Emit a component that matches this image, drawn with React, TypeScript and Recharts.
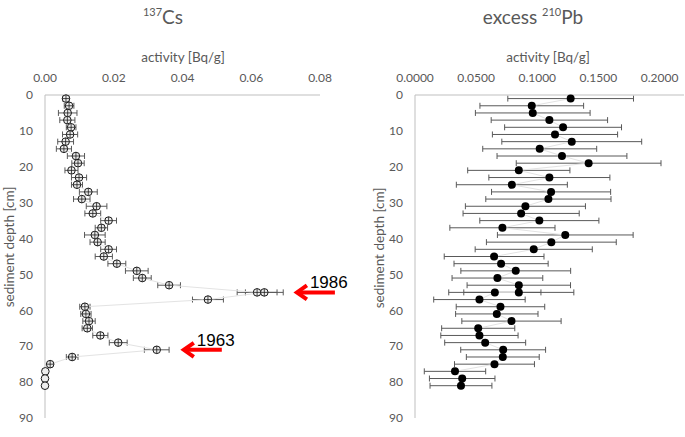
import React from "react";
import { ScatterChart, Scatter, XAxis, YAxis, ErrorBar, ReferenceDot } from "recharts";

// 137Cs profile (depth in cm, activity in Bq/g)
const csDepth = [
  1, 3, 5, 7, 9, 11, 13, 15, 17, 19, 21, 23, 25, 27, 29, 31, 33, 35, 37, 39, 41,
  43, 45, 47, 49, 51, 53, 55, 55, 57, 59, 61, 63, 65, 67, 69, 71, 73, 75, 77, 79, 81,
];
const csActivity = [
  0.0061, 0.007, 0.0066, 0.0065, 0.0076, 0.0073, 0.006, 0.0055, 0.009, 0.0096, 0.0077,
  0.0099, 0.0093, 0.0126, 0.0107, 0.015, 0.0139, 0.0185, 0.0164, 0.0145, 0.0153, 0.0185,
  0.0171, 0.0209, 0.0267, 0.0283, 0.0361, 0.0617, 0.0638, 0.0474, 0.0116, 0.0119, 0.0128,
  0.0123, 0.0161, 0.0213, 0.0325, 0.0079, 0.0015, 0.0001, 0, 0,
];
const csError = [
  0.0009, 0.0014, 0.0027, 0.0022, 0.0014, 0.0022, 0.0023, 0.0022, 0.0025, 0.0018, 0.0019,
  0.0022, 0.0016, 0.0026, 0.0024, 0.003, 0.0023, 0.0023, 0.0018, 0.003, 0.0022, 0.0023,
  0.0025, 0.0026, 0.0033, 0.0026, 0.0033, 0.0058, 0.0055, 0.0045, 0.0015, 0.0015, 0.0018,
  0.0015, 0.0022, 0.0026, 0.0036, 0.0017, 0.0005, 0, 0, 0,
];

// excess 210Pb profile
const pbDepth = csDepth;
const pbActivity = [
  0.1273, 0.0955, 0.0963, 0.1099, 0.1211, 0.1145, 0.1282, 0.102, 0.1202, 0.142, 0.0849,
  0.1099, 0.0792, 0.1113, 0.1091, 0.0903, 0.0868, 0.1017, 0.0715, 0.1229, 0.1115, 0.0971,
  0.0647, 0.0704, 0.0824, 0.0674, 0.0849, 0.0849, 0.0653, 0.0527, 0.0699, 0.0669, 0.0789,
  0.0517, 0.0527, 0.0574, 0.0721, 0.0718, 0.065, 0.0327, 0.0386, 0.0376,
];
const pbError = [
  0.0514, 0.0424, 0.0469, 0.0476, 0.0478, 0.0512, 0.0572, 0.0466, 0.0531, 0.0592, 0.0418,
  0.0495, 0.0454, 0.0487, 0.0512, 0.0491, 0.0475, 0.0487, 0.043, 0.0555, 0.0531, 0.0479,
  0.0408, 0.0385, 0.0449, 0.0371, 0.0423, 0.045, 0.0377, 0.0374, 0.0362, 0.0337, 0.0406,
  0.0299, 0.0316, 0.0331, 0.0347, 0.0298, 0.0327, 0.0251, 0.0268, 0.0253,
];

const csTicks = [0, 0.02, 0.04, 0.06, 0.08];
const pbTicks = [0, 0.05, 0.1, 0.15, 0.2];
const depthTicks = [0, 10, 20, 30, 40, 50, 60, 70, 80, 90];

const markerYears = ["1986", "1963"];
const markerActivity = [0.0727, 0.0398];
const markerDepth = [55, 71];

const csData = csDepth.map((d, i) => ({ depth: d, activity: csActivity[i], err: csError[i] }));
const pbData = pbDepth.map((d, i) => ({ depth: d, activity: pbActivity[i], err: pbError[i] }));

const FONT = "Lato, 'Open Sans', sans-serif";
const GRAY = "#595959";
const AXIS = "#bfbfbf";

function CsMarker(props: any) {
  const { cx, cy, payload } = props;
  const r = 3.8;
  return (
    <g>
      <circle cx={cx} cy={cy} r={r} fill="#ededed" stroke="#1a1a1a" strokeWidth={1} />
      {payload.err > 0 && (
        <path
          d={`M${cx - r} ${cy}H${cx + r}M${cx} ${cy - r}V${cy + r}`}
          stroke="#1a1a1a"
          strokeWidth={0.8}
        />
      )}
    </g>
  );
}

function PbMarker(props: any) {
  const { cx, cy } = props;
  return <circle cx={cx} cy={cy} r={4} fill="#000" />;
}

function YearArrow(props: any, year: string) {
  const { cx, cy } = props;
  return (
    <g>
      <path d={`M${cx + 3} ${cy}H${cx + 40}`} stroke="#ff0000" strokeWidth={4} />
      <path
        d={`M${cx + 12} ${cy - 7}L${cx + 2} ${cy}L${cx + 12} ${cy + 7}`}
        stroke="#ff0000"
        strokeWidth={4}
        fill="none"
        strokeLinejoin="miter"
      />
      <text
        x={cx + 15}
        y={cy - 4}
        fontSize={17}
        fontFamily="'Liberation Sans', Arial, sans-serif"
        fill="#000"
      >
        {year}
      </text>
    </g>
  );
}

const tickStyle = { fill: GRAY, fontSize: 12, fontFamily: FONT };

function Panel({
  data,
  domain,
  ticks,
  digits,
  marker,
  width,
  marginLeft,
  marginRight,
  children,
}: any) {
  return (
    <ScatterChart
      width={width}
      height={437}
      margin={{ top: 75, right: marginRight, bottom: 19, left: marginLeft }}
    >
      <XAxis
        type="number"
        dataKey="activity"
        orientation="top"
        domain={domain}
        ticks={ticks}
        tickFormatter={(v: number) => v.toFixed(digits)}
        axisLine={{ stroke: AXIS }}
        tickLine={false}
        tickSize={0}
        tickMargin={13}
        tick={tickStyle}
        height={20}
        interval={0}
      />
      <YAxis
        type="number"
        dataKey="depth"
        domain={[0, 90]}
        ticks={depthTicks}
        reversed
        axisLine={{ stroke: AXIS }}
        tickLine={false}
        tickSize={0}
        tickMargin={12}
        tick={tickStyle}
        width={30}
        interval={0}
      />
      <Scatter
        data={data}
        isAnimationActive={false}
        line={{ stroke: "#e3e3e3", strokeWidth: 1 }}
        lineType="joint"
        shape={marker}
      >
        <ErrorBar dataKey="err" direction="x" width={3} stroke="#595959" strokeWidth={1} isAnimationActive={false} />
      </Scatter>
      {children}
    </ScatterChart>
  );
}

const textBase: React.CSSProperties = {
  position: "absolute",
  transform: "translate(-50%, -50%)",
  whiteSpace: "nowrap",
  color: GRAY,
  fontFamily: FONT,
};

export default function App() {
  return (
    <div style={{ position: "absolute", left: 0, top: 0, width: 685, height: 437, background: "#fff" }}>
      <div style={{ position: "absolute", left: 345, top: 0 }}>
        <Panel
          data={pbData}
          domain={[0, 0.22]}
          ticks={pbTicks}
          digits={4}
          marker={PbMarker}
          width={340}
          marginLeft={40}
          marginRight={1}
        />
      </div>
      <div style={{ position: "absolute", left: 0, top: 0 }}>
        <Panel
          data={csData}
          domain={[0, 0.08]}
          ticks={csTicks}
          digits={2}
          marker={CsMarker}
          width={365}
          marginLeft={15}
          marginRight={45}
        >
          {markerYears.map((y, i) => (
            <ReferenceDot
              key={y}
              x={markerActivity[i]}
              y={markerDepth[i]}
              ifOverflow="visible"
              shape={(p: any) => YearArrow(p, y)}
            />
          ))}
        </Panel>
      </div>

      <div style={{ ...textBase, left: 163, top: 16, fontSize: 19 }}>
        <sup style={{ fontSize: 11 }}>137</sup>Cs
      </div>
      <div style={{ ...textBase, left: 533, top: 16, fontSize: 19 }}>
        excess <sup style={{ fontSize: 11 }}>210</sup>Pb
      </div>
      <div style={{ ...textBase, left: 183, top: 57, fontSize: 13.5 }}>activity [Bq/g]</div>
      <div style={{ ...textBase, left: 548, top: 57, fontSize: 13.5 }}>activity [Bq/g]</div>
      <div style={{ ...textBase, left: 9, top: 247, fontSize: 13.5, transform: "translate(-50%, -50%) rotate(-90deg)" }}>
        sediment depth [cm]
      </div>
      <div style={{ ...textBase, left: 379, top: 248, fontSize: 13.5, transform: "translate(-50%, -50%) rotate(-90deg)" }}>
        sediment depth [cm]
      </div>
    </div>
  );
}
